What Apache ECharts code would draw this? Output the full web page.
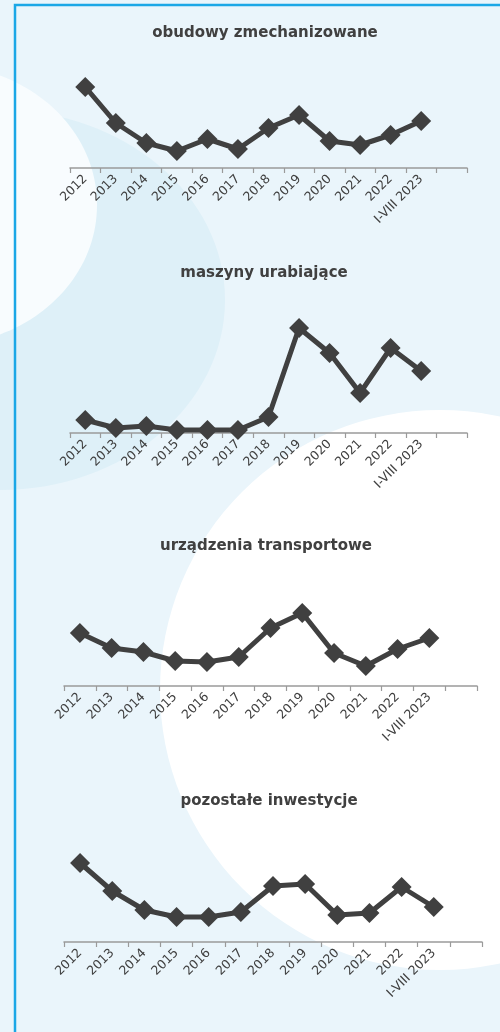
<!DOCTYPE html>
<html>
<head>
<meta charset="utf-8">
<script src="https://cdn.jsdelivr.net/npm/echarts@6/dist/echarts.min.js"></script>
<style>
  html, body { margin: 0; padding: 0; background: #e9f5fb; }
  #chart { width: 500px; height: 1032px; }
</style>
</head>
<body>
<div id="chart"></div>
<script>
// categories (last slot is empty, as in the source chart)
const years = ['2012', '2013', '2014', '2015', '2016', '2017', '2018', '2019', '2020', '2021', '2022', 'I-VIII 2023', '']

const titles = [
  'obudowy zmechanizowane',
  'maszyny urabiające',
  'urządzenia transportowe',
  'pozostałe inwestycje'
]

// relative values (no value axis in the source)
const obudowy = [81, 45, 25, 17, 29, 19, 40, 53, 27, 23, 33, 47]
const maszyny = [13, 5, 7, 3, 3, 3, 16, 105, 80, 40, 85, 62]
const transport = [53, 38, 34, 25, 24, 29, 58, 73, 33, 20, 37, 48]
const pozostale = [79, 51, 32, 25, 25, 30, 56, 58, 27, 29, 55, 35]

const seriesData = [obudowy, maszyny, transport, pozostale]

// panel placement: axis line y, left and right of the plot
const panels = [
  { axisY : 168, left : 70, right : 467, titleX : 265, titleY : 35 },
  { axisY : 433, left : 70, right : 467, titleX : 264, titleY : 275 },
  { axisY : 686, left : 64, right : 477, titleX : 266, titleY : 548 },
  { axisY : 942, left : 64, right : 482, titleX : 269, titleY : 803 }
]
const plotH = 110
const textColor = '#404040'

const chart = echarts.init( document.getElementById( 'chart' ) )

chart.setOption( {
  animation : false,
  graphic : [
    { type : 'rect', z : -10, silent : true, shape : { x : 0, y : 0, width : 500, height : 1032 }, style : { fill : '#eaf5fb' }},
    { type : 'ellipse', z : -9, silent : true, shape : { cx : 0, cy : 300, rx : 225, ry : 190 }, style : { fill : '#def0f8' }},
    { type : 'ellipse', z : -8, silent : true, shape : { cx : -60, cy : 205, rx : 157, ry : 140 }, style : { fill : '#f8fcfe' }},
    { type : 'circle', z : -8, silent : true, shape : { cx : 440, cy : 690, r : 280 }, style : { fill : '#ffffff' }},
    { type : 'polyline', z : -5, silent : true, shape : { points : [[500, 5], [15, 5], [15, 1032]] }, style : { stroke : '#1ba7e6', lineWidth : 2.5, fill : null }}
  ],
  title : panels.map( ( p, i ) => ( {
    text : titles[i],
    left : p.titleX,
    top : p.titleY - 9,
    textAlign : 'center',
    padding : 0,
    textStyle : {
      fontFamily : 'DejaVu Sans',
      fontWeight : 'bold',
      fontSize : 15,
      color : textColor
    }
  } ) ),
  grid : panels.map( p => ( {
    left : p.left,
    width : p.right - p.left,
    top : p.axisY - plotH,
    height : plotH
  } ) ),
  xAxis : panels.map( ( p, i ) => ( {
    type : 'category',
    gridIndex : i,
    data : years,
    boundaryGap : true,
    axisLine : { lineStyle : { color : '#9a9a9a', width : 1.5 }},
    axisTick : { show : true, length : 5, lineStyle : { color : '#9a9a9a', width : 1.2 }},
    axisLabel : {
      rotate : 45,
      interval : 0,
      margin : 9,
      fontFamily : 'DejaVu Sans',
      fontSize : 12.5,
      color : textColor
    },
    splitLine : { show : false }
  } ) ),
  yAxis : panels.map( ( p, i ) => ( {
    type : 'value',
    gridIndex : i,
    min : 0,
    max : plotH,
    show : false,
    splitLine : { show : false }
  } ) ),
  series : seriesData.map( ( d, i ) => ( {
    type : 'line',
    xAxisIndex : i,
    yAxisIndex : i,
    data : d,
    symbol : 'diamond',
    symbolSize : 20,
    showAllSymbol : true,
    lineStyle : { color : textColor, width : 5 },
    itemStyle : { color : textColor }
  } ) )
} )
</script>
</body>
</html>
